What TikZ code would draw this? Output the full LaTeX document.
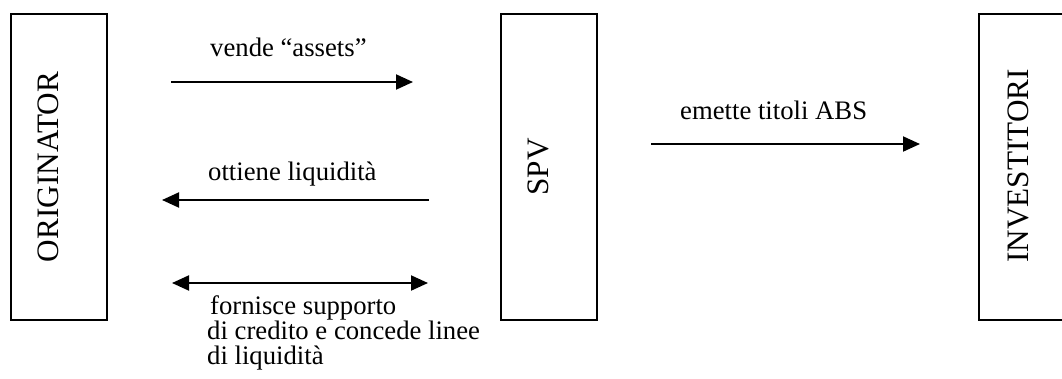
\documentclass[tikz,border=0pt]{standalone}
\usepackage{fontspec}
\setmainfont{Liberation Serif}
\usetikzlibrary{arrows.meta}

\tikzset{
  party/.style={draw, line width=1.6pt},
  partylabel/.style={rotate=90, anchor=north, inner sep=0pt,
    font=\fontsize{31.2}{36}\selectfont},
  flow/.style={line width=2pt, -{Triangle[length=17pt, width=15pt]}},
  twoway/.style={line width=2pt, {Triangle[length=17pt, width=15pt]}-{Triangle[length=17pt, width=15pt]}},
  flowlabel/.style={anchor=base west, inner sep=0pt,
    font=\fontsize{26.7}{25.5}\selectfont}
}

\begin{document}
\begin{tikzpicture}[x=1pt, y=-1pt]
  \clip (0,0) rectangle (1062,378);
  \fill[white] (0,0) rectangle (1062,378);

  % the three parties
  \draw[party] (11,14) rectangle (107,320);
  \draw[party] (501,14) rectangle (597,320);
  \draw[party] (979,14) rectangle (1075,320);
  \node[partylabel] (orig) at (38,167) {ORIGINATOR};
  \node[partylabel] (spv)  at (528,167) {SPV};
  \node[partylabel] (inv)  at (1008,166) {INVESTITORI};

  % arrow end points
  \coordinate (sellA) at (171,82);
  \coordinate (sellB) at (413,82);
  \coordinate (cashA) at (429,200);
  \coordinate (cashB) at (162,200);
  \coordinate (suppA) at (172,283);
  \coordinate (suppB) at (428,283);
  \coordinate (absA)  at (651,144);
  \coordinate (absB)  at (920,144);

  \draw[flow] (sellA) -- (sellB);
  \draw[flow] (cashA) -- (cashB);
  \draw[twoway] (suppA) -- (suppB);
  \draw[flow] (absA) -- (absB);

  % labels
  \node[flowlabel] (lsell) at (210,56) {vende “assets”};
  \node[flowlabel] (lcash) at (208,180) {ottiene liquidità};
  \node[flowlabel] (lsupp1) at (210,314) {fornisce supporto};
  \node[flowlabel] (lsupp2) at (207,339) {di credito e concede linee};
  \node[flowlabel] (lsupp3) at (207,364) {di liquidità};
  \node[flowlabel] (labs)  at (680,119) {emette titoli ABS};
\end{tikzpicture}
\end{document}
